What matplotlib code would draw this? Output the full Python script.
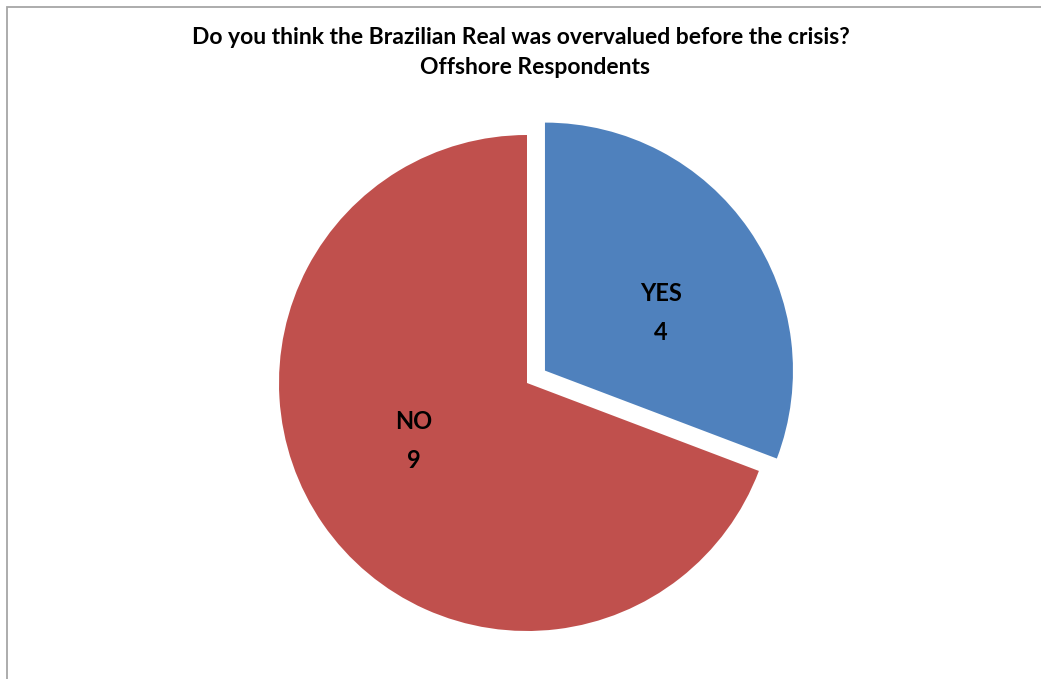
import matplotlib
matplotlib.use("Agg")
import matplotlib.pyplot as plt
from matplotlib.patches import Rectangle

# data
labels = ["YES", "NO"]
counts = [4, 9]
colors = ["#4F81BD", "#C0504D"]
explode = [0.088, 0.0]

title_lines = ["Do you think the Brazilian Real was overvalued before the crisis?",
               "Offshore Respondents"]

W, H = 1041, 679
cx, cy, r = 527, 383, 248  # pie centre / radius in pixels (from top-left)

plt.rcParams['font.family'] = ['Lato', 'DejaVu Sans']

fig = plt.figure(figsize=(W / 100, H / 100), dpi=100)
ax = fig.add_axes([0, 0, 1, 1])

ax.pie(counts, colors=colors, explode=explode, startangle=90,
       counterclock=False, radius=1.0,
       wedgeprops=dict(linewidth=0))

# 1 data unit = r pixels in both directions
ax.set_xlim(-cx / r, (W - cx) / r)
ax.set_ylim(-(H - cy) / r, cy / r)
ax.axis('off')

# label positions (pixels)
label_pos = {"YES": (661, 313), "NO": (414, 441)}
for lab, val in zip(labels, counts):
    px, py = label_pos[lab]
    ax.text((px - cx) / r, (cy - py) / r, f"{lab}\n{val}",
            ha='center', va='center', fontsize=17, fontweight='bold',
            linespacing=1.8, color='black')

# title, two lines placed as in the original
fig.text(521 / W, 1 - 38 / H, title_lines[0], ha='center', va='center',
         fontsize=16.5, fontweight='bold')
fig.text(535 / W, 1 - 68 / H, title_lines[1], ha='center', va='center',
         fontsize=16.5, fontweight='bold')

# chart-area border (right and bottom edges run off the picture)
fig.patches.append(Rectangle((7 / W, -0.05), 1.1, 1 - 7 / H + 0.05,
                             transform=fig.transFigure, fill=False,
                             edgecolor='#a6a6a6', linewidth=1.3))

fig.savefig("out.png", dpi=100)
